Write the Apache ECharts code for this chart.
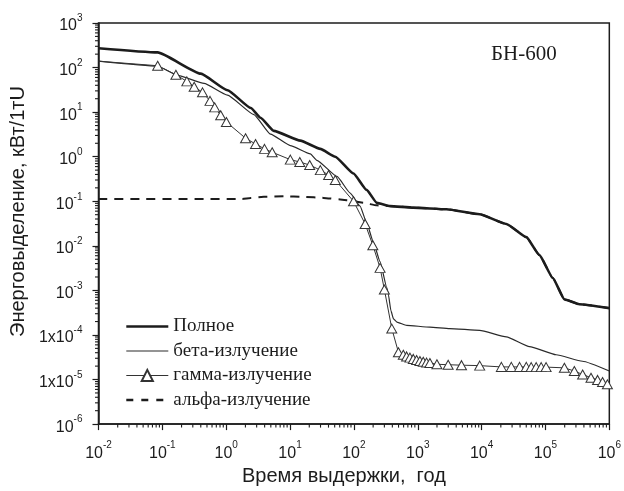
<!DOCTYPE html>
<html><head><meta charset="utf-8">
<script src="https://cdn.jsdelivr.net/npm/echarts@6/dist/echarts.min.js"></script>
<style>html,body{margin:0;padding:0;background:#fff}#c{width:624px;height:491px}</style>
</head><body><div id="c"></div>
<script>
// ---- data (time in years, energy release in kW per 1 t U) ----
const seriesNames = ['Полное', 'бета-излучение', 'гамма-излучение', 'альфа-излучение'];

const totalTime  = [0.01, 0.0845, 0.4, 1.05, 2.43, 3.45, 5.57, 14.5, 29.8, 51, 98.6, 158, 229, 368, 851, 2820, 9330, 24400, 50100, 80500, 130000, 198000, 339000, 1000000];
const totalValue = [272, 219, 73, 31, 12.4, 7.5, 3.8, 2.3, 1.5, 1.0, 0.42, 0.18, 0.092, 0.078, 0.072, 0.066, 0.051, 0.031, 0.0157, 0.0062, 0.0019, 0.00063, 0.00049, 0.0004];

const betaTime  = [0.01, 0.0845, 0.174, 0.45, 1.045, 2.72, 4.94, 10.1, 20.8, 26.3, 54.3, 87.5, 125, 158, 202, 257, 327, 347, 380, 417, 470, 671, 1549, 3160, 9330, 24400, 56200, 147000, 380000, 1000000];
const betaValue = [139, 107, 67, 44, 24, 8.8, 3.2, 1.78, 1.16, 0.83, 0.36, 0.153, 0.078, 0.033, 0.012, 0.0044, 0.00115, 0.0008, 0.00035, 0.00023, 0.000195, 0.000164, 0.00015, 0.000139, 0.000127, 0.000091, 0.000055, 0.000036, 0.0000257, 0.0000155];

const gammaTime  = [0.01, 0.0845, 0.163, 0.242, 0.315, 0.426, 0.558, 0.661, 0.82, 1.007, 2.01, 2.88, 3.98, 5.25, 10.1, 14.2, 20.3, 29.8, 40.2, 51.1, 98.6, 150, 198, 257, 300, 392, 498, 594, 669, 755, 851, 959, 1081, 1219, 1374, 1549, 1995, 2992, 4842, 9330, 20400, 29200, 39300, 50100, 59800, 71600, 85700, 102300, 197700, 283100, 381900, 516400, 654600, 783400, 933300];
const gammaValue = [139, 110, 69, 49, 37, 27.8, 17.9, 12.8, 8.5, 6.0, 2.6, 1.93, 1.5, 1.26, 0.86, 0.76, 0.65, 0.50, 0.39, 0.30, 0.10, 0.031, 0.0103, 0.0032, 0.00105, 0.000139, 0.000041, 0.000036, 0.000033, 0.000031, 0.000029, 0.0000275, 0.000026, 0.000025, 0.000024, 0.0000235, 0.000022, 0.0000215, 0.000021, 0.0000205, 0.0000192, 0.0000192, 0.0000192, 0.0000192, 0.000019, 0.000019, 0.000019, 0.000019, 0.0000183, 0.0000155, 0.000013, 0.000011, 0.0000098, 0.0000088, 0.0000078];

const alphaTime  = [0.01, 1.79, 2.43, 3.89, 7.98, 16.4, 33.6, 61.1, 98.6, 141, 229, 368, 851, 2820, 9330, 24400, 50100, 80500, 130000, 198000, 339000, 1000000];
const alphaValue = [0.113, 0.113, 0.119, 0.126, 0.129, 0.126, 0.119, 0.11, 0.10, 0.092, 0.081, 0.078, 0.072, 0.066, 0.051, 0.031, 0.0157, 0.0062, 0.0019, 0.00063, 0.00049, 0.0004];

const xTickLabels = ['10^-2', '10^-1', '10^0', '10^1', '10^2', '10^3', '10^4', '10^5', '10^6'];
const yTickLabels = ['10^-6', '1x10^-5', '1x10^-4', '10^-3', '10^-2', '10^-1', '10^0', '10^1', '10^2', '10^3'];
const minorMultipliers = [2, 3, 4, 5, 6, 7, 8, 9];

const xTitle = 'Время выдержки,  год';
const yTitle = 'Энерговыделение, кВт/1тU';
const panelLabel = 'БН-600';

// ---- helpers ----
const pairs = (t, v) => t.map((x, i) => [x, v[i]]);
function labelMap(list) {
  const m = {};
  list.forEach(s => { const p = s.split('^'); m[p[1]] = '{b|' + p[0] + '}{s|' + p[1] + '}'; });
  return m;
}
const xMap = labelMap(xTickLabels), yMap = labelMap(yTickLabels);
const expOf = v => String(Math.round(Math.log10(v)));
const xExps = xTickLabels.map(s => +s.split('^')[1]);
const yExps = yTickLabels.map(s => +s.split('^')[1]);
const xMin = Math.pow(10, xExps[0]), xMax = Math.pow(10, xExps[xExps.length - 1]);
const yMin = Math.pow(10, yExps[0]), yMax = Math.pow(10, yExps[yExps.length - 1]);
function minorValues(exps) {
  const out = [];
  for (let i = 0; i < exps.length - 1; i++) minorMultipliers.forEach(m => out.push(m * Math.pow(10, exps[i])));
  return out;
}
const ink = '#1c1c1c';
const rich = {
  b: { fontSize: 16, fontFamily: 'Liberation Sans', color: ink, padding: [6, 0, 0, 0] },
  s: { fontSize: 10, fontFamily: 'Liberation Sans', color: ink, padding: [0, 0, 9, 0] }
};
const hiddenSymbol = { color: 'rgba(0,0,0,0)', borderColor: 'rgba(0,0,0,0)', borderWidth: 0, opacity: 0 };
const totalLine = { color: ink, width: 2.6 };
const betaLine = { color: '#2a2a2a', width: 1.2 };
const gammaLine = { color: '#333', width: 1 };
const alphaLine = { color: ink, width: 2, type: [9, 7] };

const chart = echarts.init(document.getElementById('c'), null, { renderer: 'canvas' });
chart.setOption({
  animation: false,
  backgroundColor: '#fff',
  title: { text: panelLabel, left: 486, top: 39,
    textStyle: { fontFamily: 'Liberation Serif', fontSize: 21, fontWeight: 'normal', color: ink } },
  grid: { left: 97, right: 14, top: 23, bottom: 59, show: true, borderColor: ink, borderWidth: 1.5, backgroundColor: 'transparent' },
  legend: {
    orient: 'vertical', left: 120, top: 312, itemWidth: 42, itemHeight: 14, itemGap: 5.5,
    data: [
      { name: seriesNames[0], itemStyle: hiddenSymbol, lineStyle: { width: 2.6, color: ink } },
      { name: seriesNames[1], itemStyle: hiddenSymbol, lineStyle: { width: 1.2, color: '#2a2a2a' } },
      { name: seriesNames[2], lineStyle: { width: 1.2, color: '#333' } },
      { name: seriesNames[3], itemStyle: hiddenSymbol, lineStyle: { width: 2.4, color: ink, type: [7, 8] } }
    ],
    textStyle: { fontFamily: 'Liberation Serif', fontSize: 19, color: ink }
  },
  xAxis: {
    type: 'log', logBase: 10, min: xMin, max: xMax, splitNumber: xExps.length - 1,
    axisLine: { lineStyle: { color: ink, width: 1.5 } },
    axisTick: { length: 6, lineStyle: { color: ink, width: 1.2 } },
    splitLine: { show: false },
    axisLabel: { margin: 15, formatter: v => xMap[expOf(v)] || '', rich: rich },
    name: xTitle, nameLocation: 'middle', nameGap: 37,
    nameTextStyle: { fontFamily: 'Liberation Sans', fontSize: 20, color: ink, padding: [0, 20, 0, 0] }
  },
  yAxis: {
    type: 'log', logBase: 10, min: yMin, max: yMax, splitNumber: yExps.length - 1,
    axisLine: { lineStyle: { color: ink, width: 1.5 } },
    axisTick: { length: 6, lineStyle: { color: ink, width: 1.2 } },
    splitLine: { show: false },
    axisLabel: { margin: 16, formatter: v => yMap[expOf(v)] || '', rich: rich },
    name: yTitle, nameLocation: 'middle', nameGap: 68,
    nameTextStyle: { fontFamily: 'Liberation Sans', fontSize: 20, color: ink, padding: [0, 0, 0, 24] }
  },
  series: [
    {
      name: seriesNames[0], type: 'line', data: pairs(totalTime, totalValue),
      symbol: 'none', smooth: 0.15, smoothMonotone: 'x', z: 4,
      lineStyle: totalLine, itemStyle: { color: ink }
    },
    {
      name: seriesNames[1], type: 'line', data: pairs(betaTime, betaValue),
      symbol: 'none', smooth: 0.15, smoothMonotone: 'x', z: 3,
      lineStyle: betaLine, itemStyle: { color: '#2a2a2a' }
    },
    {
      name: seriesNames[2], type: 'line',
      data: pairs(gammaTime, gammaValue).map((p, i) => i === 0 ? { value: p, symbol: 'none' } : p),
      symbol: 'triangle', symbolSize: [10, 9], showSymbol: true, showAllSymbol: true, z: 3,
      lineStyle: gammaLine,
      itemStyle: { color: '#fff', borderColor: '#333', borderWidth: 1 }
    },
    {
      name: seriesNames[3], type: 'line', data: pairs(alphaTime, alphaValue),
      symbol: 'none', smooth: 0.15, smoothMonotone: 'x', z: 2,
      lineStyle: alphaLine, itemStyle: { color: ink }
    },
    {
      type: 'custom', silent: true, clip: false, z: 5,
      data: minorValues(xExps).map(v => [v, yMin]),
      renderItem: (params, api) => {
        const p = api.coord([api.value(0), api.value(1)]);
        return { type: 'line', shape: { x1: p[0], y1: p[1], x2: p[0], y2: p[1] + 3.5 }, style: { stroke: ink, lineWidth: 1.1 } };
      }
    },
    {
      type: 'custom', silent: true, clip: false, z: 5,
      data: minorValues(yExps).map(v => [xMin, v]),
      renderItem: (params, api) => {
        const p = api.coord([api.value(0), api.value(1)]);
        return { type: 'line', shape: { x1: p[0] - 3.5, y1: p[1], x2: p[0], y2: p[1] }, style: { stroke: ink, lineWidth: 1.1 } };
      }
    }
  ]
});
</script>
</body></html>
